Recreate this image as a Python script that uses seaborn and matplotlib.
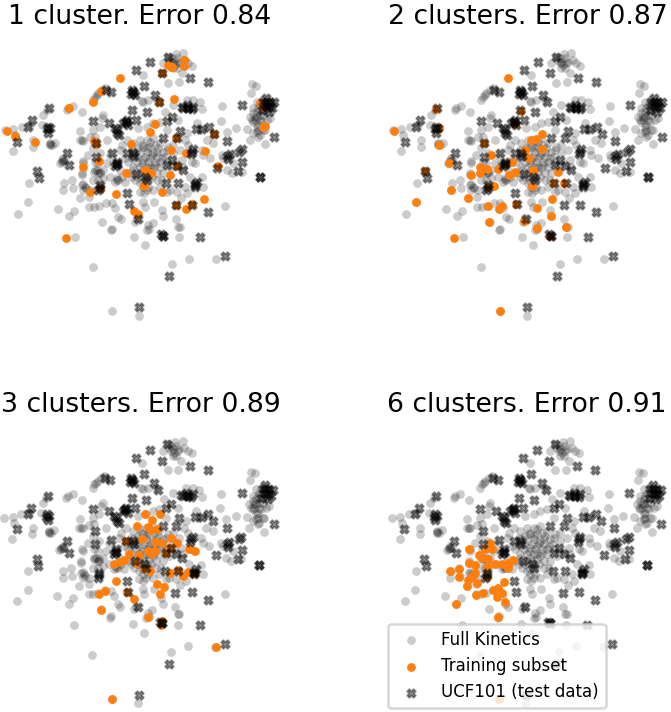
import numpy as np
import pandas as pd
import seaborn as sns
import matplotlib
matplotlib.use('Agg')
import matplotlib.pyplot as plt

titles = ['1 cluster. Error 0.84', '2 clusters. Error 0.87', '3 clusters. Error 0.89', '6 clusters. Error 0.91']
legend_labels = ['Full Kinetics', 'Training subset', 'UCF101 (test data)']

# embedding positions (3x pixel units of the first panel)
full_kinetics = [(527,72),(550,70),(510,90),(515,100),(525,105),(540,95),(555,90),(577,107),(545,130),(505,158),(537,157),(428,135),(490,100),(520,115),
    (285,200),(295,190),(305,180),(280,210),(290,195),(315,175),(205,235),(220,228),(200,240),(247,246),(130,256),(140,240),
    (15,300),(40,297),(65,290),(90,285),(125,285),(45,315),(98,350),(38,363),(100,330),(150,342),(165,338),(155,345),
    (241,304),(245,330),(250,332),(270,322),(280,300),(285,320),(300,290),(320,330),(310,255),(305,265),(248,393),(250,400),(185,395),(180,398),(190,385),(195,392),
    (87,460),(85,517),(54,551),(173,536),(208,558),(221,542),(190,480),(192,460),(215,450),(218,475),(245,436),(245,465),(255,470),(250,480),(240,505),(268,500),
    (268,530),(282,530),(297,527),(317,518),(335,520),(345,535),(305,575),(355,560),(362,567),(333,600),(225,622),(279,712),(402,620),(435,645),(445,585),(458,578),
    (448,597),(535,590),(527,568),(536,622),(516,703),(566,686),(648,687),(337,843),(416,857),(676,529),(543,503),(490,558),(485,540),(463,515),(430,515),(435,530),
    (432,490),(410,565),(405,575),(283,425),(290,420),(300,425),(280,450),(295,450),(310,445),(330,440),(350,450),(355,450),(365,440),(385,430),(400,420),(415,440),
    (420,460),(430,470),(445,470),(460,480),(480,470),(500,485),(510,480),(530,485),(555,470),(560,490),(570,440),(605,442),(610,470),(585,400),(575,395),(545,390),
    (550,410),(520,370),(500,360),(480,340),(460,325),(440,330),(420,330),(400,340),(380,330),(365,345),(360,360),(420,370),(440,365),(460,370),(470,380),(450,385),
    (430,390),(410,395),(385,395),(400,410),(420,410),(440,410),(465,405),(480,410),(490,430),(470,430),(450,425),(430,420),(480,395),(495,380),(505,350),(520,345),
    (475,355),(450,350),(430,350),(415,355),(395,360),(375,385),(360,420),(340,400),(320,400),(310,420),(330,375),(295,400),(285,395),(300,370),(280,355),(265,375),
    (540,360),(555,330),(565,345),(415,295),(440,290),(460,280),(480,275),(495,245),(520,225),(535,270),(500,300),(430,215),(425,212),(470,210),(445,210),(560,210),
    (600,217),(580,210),(607,237),(666,228),(663,272),(590,280),(600,300),(680,305),(709,294),(560,310),(620,330),(640,340),(605,360),(630,385),(610,375),(665,375),
    (670,385),(680,420),(695,430),(725,425),(700,400),(742,298),(755,163),(768,167),(753,188),(770,215),(760,235),(770,245),(750,260),(765,260),(780,270),(790,255),
    (775,285),(795,300),(760,310),(775,320),(750,330),(795,342),(800,270),(785,210),(760,275),(810,265),(780,225),(775,300),
    # denser parts of the cloud
    (445,395),(435,380),(455,375),(465,395),(425,400),(440,355),(470,365),(485,385),(410,380),(425,345),(450,410),(460,415),(435,430),(445,445),(455,440),(420,430),
    (405,450),(430,455),(470,450),(485,450),(395,385),(405,365),(450,335),(465,345),(490,365),(500,395),(510,415),(525,400),(395,440),(375,455),(440,480),(420,485),
    (515,85),(530,85),(520,95),(535,100),(505,80),(530,115),(565,100),
    (765,270),(770,260),(755,270),(780,255),(785,275),(770,290),(790,300),(780,315),(770,305),(760,250),(775,235),(790,240),
    (245,430),(250,462),(258,475),(270,480),(285,420),(295,430),(350,445),(345,455),(240,330),(150,345),(150,340),(190,392),(185,390),(440,600),(540,590),(335,596),(300,430)]

ucf101 = [(503,80),(451,96),(409,121),(487,130),(571,145),(625,156),(433,168),(317,180),(333,186),(399,187),(398,187),(465,195),(477,217),(147,235),(397,241),(441,246),
    (545,232),(565,235),(565,235),(575,238),(727,226),(797,203),(810,215),(822,217),(800,230),(810,225),(806,245),(95,270),(85,290),(143,290),(145,308),(52,335),
    (280,273),(328,280),(378,277),(378,275),(380,270),(408,270),(350,300),(358,315),(500,272),(515,260),(540,302),(530,325),(490,325),(587,298),(607,298),(627,290),
    (642,311),(682,332),(823,320),(287,340),(335,368),(380,370),(403,378),(575,365),(202,370),(208,405),(287,380),(350,402),(350,402),(515,390),(500,405),(548,420),
    (530,408),(690,372),(725,358),(685,388),(727,397),(715,423),(650,413),(780,441),(780,441),(112,424),(117,445),(407,431),(435,440),(440,450),(497,460),(535,460),
    (585,462),(585,470),(585,465),(300,473),(382,490),(387,522),(527,525),(577,524),(625,547),(415,568),(488,617),(488,617),(601,622),(676,679),(508,739),(418,832),
    (790,215),(800,215),(815,235),(795,225),(785,240),(550,235),(560,225),(580,230),(395,180),(405,195),(392,192),(345,295),(352,310),(370,280),(385,285),
    (140,298),(150,295),(400,370),(572,372),(580,358),(590,455),(300,465),(295,480),(482,612),(350,395),(345,408),(718,365),(682,378)]

subset_1 = [(360,143),(505,105),(512,110),(517,112),(551,90),(551,107),(487,130),(303,183),(280,216),(206,233),(522,206),(477,217),(779,219),(790,230),(790,291),(796,289),
    (20,304),(45,317),(105,337),(465,281),(451,306),(527,325),(282,333),(287,342),(393,341),(512,359),(557,370),(616,364),(641,311),(298,394),(250,410),(531,408),
    (654,409),(435,419),(454,430),(379,428),(511,434),(432,469),(300,473),(269,485),(349,491),(487,485),(611,506),(527,525),(577,522),(559,537),(403,542),(414,551),(199,624)]

subset_2 = [(360,143),(144,237),(398,242),(381,283),(19,304),(154,293),(154,344),(463,313),(445,326),(428,330),(287,340),(412,359),(461,356),(308,376),(424,383),(372,396),
    (184,400),(277,410),(298,416),(329,418),(277,428),(248,436),(364,434),(380,427),(435,420),(510,427),(495,459),(529,458),(111,423),(317,467),(301,472),(432,469),
    (188,479),(240,505),(493,506),(85,517),(300,527),(342,529),(332,538),(383,521),(448,535),(490,557),(304,575),(407,574),(448,595),(534,592),(487,618),(199,624),(337,843)]

subset_3 = [(437,288),(482,288),(458,307),(414,326),(445,327),(472,333),(455,338),(428,364),(380,370),(514,361),(467,373),(489,377),(533,377),(512,390),(570,394),(586,401),
    (499,407),(447,401),(468,399),(457,408),(388,408),(418,411),(374,427),(362,434),(345,440),(410,437),(435,452),(453,459),(537,456),(512,467),(567,462),(550,474),
    (587,467),(350,491),(472,499),(493,508),(481,529),(384,522),(317,520),(299,529),(403,543),(305,577),(447,598),(488,610),(486,622),(649,688),(337,844)]

subset_6 = [(247,395),(309,375),(294,395),(314,394),(276,412),(284,422),(304,425),(246,437),(264,442),(299,447),(324,439),(344,439),(364,452),(379,427),(364,437),(190,460),
    (215,454),(216,477),(299,477),(264,467),(251,477),(244,487),(269,497),(241,505),(350,492),(319,517),(334,512),(344,527),(287,527),(267,532),(329,537),(355,554),
    (207,560),(334,599),(337,845)]

subsets = [subset_1, subset_2, subset_3, subset_6]

W, H = 671, 712
plt.rcParams['font.family'] = 'DejaVu Sans'
fig = plt.figure(figsize=(W / 100, H / 100), dpi=100)
# left, top of each panel in pixels
corners = [(0, 30), (388, 30), (-0.7, 417.7), (387, 417.7)]

full = pd.DataFrame(full_kinetics, columns=['x', 'y'])
test = pd.DataFrame(ucf101, columns=['x', 'y'])

for i, (left, top) in enumerate(corners):
    ax = fig.add_axes([left / W, 1 - (top + 300) / H, 280 / W, 300 / H])
    sub = pd.DataFrame(subsets[i], columns=['x', 'y'])
    sns.scatterplot(data=full, x='x', y='y', ax=ax, color='k', alpha=0.2, s=40, linewidth=0, label=legend_labels[0])
    sns.scatterplot(data=sub, x='x', y='y', ax=ax, color='#ff7f0e', s=40, linewidth=0, label=legend_labels[1])
    sns.scatterplot(data=test, x='x', y='y', ax=ax, color='k', alpha=0.42, s=36, marker='X', linewidth=1.5, edgecolor='k', label=legend_labels[2])
    ax.set_xlim(0, 840)
    ax.set_ylim(900, 0)
    ax.axis('off')
    ax.set_title(titles[i], fontsize=19.2, pad=4, x=0.507 if i == 2 else 0.5)
    if i == 3:
        leg = ax.legend(loc='upper left', bbox_to_anchor=(0.004, 0.312), fontsize=12, borderaxespad=0, framealpha=0.8)
        leg.get_frame().set_linewidth(1.8)
    else:
        ax.get_legend().remove()

fig.savefig('out.png', dpi=100)
